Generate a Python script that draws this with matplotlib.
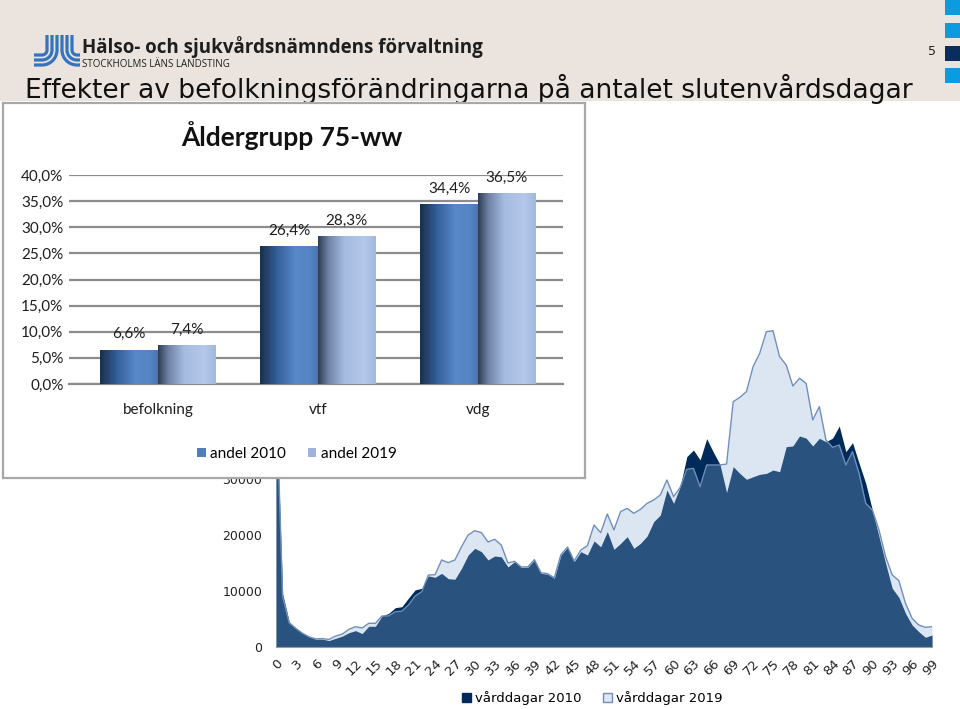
import numpy as np
import matplotlib
matplotlib.use('Agg')
import matplotlib.pyplot as plt
from matplotlib.colors import LinearSegmentedColormap
from matplotlib.patches import Rectangle, Patch
from matplotlib.ticker import FuncFormatter

W, H = 960, 709

# vårddagar per ålder (0-99)
ages = np.arange(100)
vard_2010 = [45000, 9500, 4460, 3400, 2500, 1800, 1400, 1400, 1150, 1550,
             1950, 2550, 2920, 2400, 3700, 3700, 5540, 6000, 7020, 7200,
             8750, 10200, 10480, 12700, 12440, 13150, 12200, 12100, 14050, 16430,
             17620, 17020, 15540, 16250, 16100, 14300, 15240, 14230, 14230, 15540,
             13150, 13000, 12260, 16430, 17800, 15240, 17020, 16430, 18930, 17900,
             20600, 17440, 18500, 19700, 17620, 18500, 19800, 22380, 23570, 28040,
             25650, 28630, 34000, 35180, 33400, 37200, 34800, 32600, 27600, 32200,
             31000, 29940, 30400, 30830, 31000, 31600, 31300, 35770, 35900, 37680,
             37300, 35900, 37260, 36660, 37300, 39460, 34880, 36490, 32800, 29230,
             24460, 19700, 14940, 10480, 8870, 6010, 3930, 2740, 1730, 2140]
vard_2019 = [47000, 9000, 4300, 3300, 2450, 1800, 1450, 1500, 1350, 1950,
             2300, 3150, 3630, 3400, 4230, 4230, 5540, 5540, 6300, 6400,
             7500, 9100, 9880, 12860, 12900, 15540, 15060, 15540, 17900, 20000,
             20770, 20420, 18750, 19230, 18200, 15000, 15300, 14300, 14300, 15600,
             13250, 13100, 12350, 16500, 17850, 15350, 17320, 18100, 21800, 20420,
             23750, 20900, 24170, 24760, 23870, 24580, 25650, 26250, 27140, 29820,
             26850, 28500, 31730, 31900, 28630, 32500, 32500, 32500, 32680, 43800,
             44580, 45600, 50060, 52440, 56300, 56480, 51850, 50360, 46600, 47980,
             47080, 40540, 42920, 36960, 35650, 36070, 32500, 34880, 31000, 25650,
             24460, 20900, 16130, 12860, 11850, 7800, 5120, 3930, 3510, 3630]

# inset: andel för åldersgrupp 75-ww
grupper = ['befolkning', 'vtf', 'vdg']
andel_2010 = [6.6, 26.4, 34.4]
andel_2019 = [7.4, 28.3, 36.5]


def fx(px):
    return px / W


def fy(py):
    return 1 - py / H


fig = plt.figure(figsize=(9.6, 7.09), dpi=100)
fig.patch.set_facecolor('white')

# --- header / bakgrund ---
bg = fig.add_axes([0, 0, 1, 1], zorder=-5)
bg.set_xlim(0, W)
bg.set_ylim(H, 0)
bg.axis('off')
bg.add_patch(Rectangle((0, 0), W, 101, color='#ebe4de', lw=0))
for y0, c in [(0, '#0d9be0'), (23, '#0d9be0'), (46, '#0b2d5e'), (68, '#0d9be0')]:
    bg.add_patch(Rectangle((945, y0), 15, 15, color=c, lw=0))

# logga (två grupper med tre böjda streck)
t = np.linspace(0, np.pi / 2, 30)
for r in [5, 10, 15]:
    cx, cy = 42, 50
    xs = np.r_[cx + r, cx + r * np.cos(t), 34]
    ys = np.r_[35, cy + r * np.sin(t), cy + r]
    bg.plot(xs, ys, color='#3474bf', lw=2.3, solid_capstyle='butt')
    cx2 = 77
    xs2 = np.r_[cx2 - r, cx2 - r * np.cos(t), 80]
    bg.plot(xs2, ys, color='#3474bf', lw=2.3, solid_capstyle='butt')

renderer = fig.canvas.get_renderer()


def fit(txt, width_px):
    w = txt.get_window_extent(renderer).width
    txt.set_fontsize(txt.get_fontsize() * width_px / w)


t1 = bg.text(82, 53, 'Hälso- och sjukvårdsnämndens förvaltning', family='Open Sans',
             fontweight='bold', fontsize=14, va='baseline', color='#1e1e1e')
fit(t1, 403)
t2 = bg.text(82, 67, 'STOCKHOLMS LÄNS LANDSTING', family='Open Sans',
             fontsize=6, va='baseline', color='#1e1e1e')
fit(t2, 148)
t3 = bg.text(25, 98, 'Effekter av befolkningsförändringarna på antalet slutenvårdsdagar',
             family='DejaVu Sans', fontsize=17, va='baseline', color='#111111')
fit(t3, 889)
bg.text(932, 55, '5', family='DejaVu Sans', fontsize=9, va='baseline', ha='center',
        color='#222222')

# --- huvuddiagram: vårddagar per ålder ---
ax = fig.add_axes([fx(276), fy(647), fx(932) - fx(276), fy(255) - fy(647)])
ax.patch.set_alpha(0)
ax.fill_between(ages, vard_2010, color='#002a5a', lw=0)
ax.fill_between(ages, vard_2019, color='#8eafd7', alpha=0.3, lw=0)
ax.plot(ages, vard_2019, color='#6f8fbb', lw=1)
ax.set_xlim(0, 99)
ax.set_ylim(0, 70000)
ax.set_xticks(ages[::3])
ax.set_xticklabels([str(a) for a in ages[::3]], rotation=45, ha='right',
                   rotation_mode='anchor', family='DejaVu Sans', fontsize=9.5)
ax.set_yticks(range(0, 70001, 10000))
ax.set_yticklabels([str(v) for v in range(0, 70001, 10000)], family='DejaVu Sans',
                   fontsize=9)
ax.tick_params(length=0, colors='#222222')
ax.tick_params(axis='y', pad=10)
ax.tick_params(axis='x', pad=7)
for s in ['top', 'right', 'left']:
    ax.spines[s].set_visible(False)
ax.spines['bottom'].set_color('#9a9a9a')
ax.spines['bottom'].set_linewidth(0.8)

fig.legend(handles=[Patch(facecolor='#002a5a', edgecolor='#002a5a', label='vårddagar 2010'),
                    Patch(facecolor='#dde7f3', edgecolor='#6f8fbb', label='vårddagar 2019')],
           loc='center', bbox_to_anchor=(fx(592), fy(698)), ncol=2, frameon=False,
           prop={'family': 'DejaVu Sans', 'size': 9.5}, handlelength=0.7,
           handleheight=0.7, handletextpad=0.3, columnspacing=1.6)

# --- inset ---
box = fig.add_axes([fx(3), fy(478), fx(585) - fx(3), fy(103) - fy(478)], zorder=2)
box.set_xticks([])
box.set_yticks([])
box.set_facecolor('white')
for s in box.spines.values():
    s.set_color('#a8a8a8')
    s.set_linewidth(1.6)

bx = fig.add_axes([fx(69), fy(384), fx(563) - fx(69), fy(175) - fy(384)], zorder=3)
bx.patch.set_alpha(0)
x = np.arange(len(grupper))
bw = 0.36
cm_2010 = LinearSegmentedColormap.from_list('a10', [(0, '#182f4b'), (0.3, '#35609a'),
                                                    (0.6, '#5687c6'), (0.85, '#5585c4'),
                                                    (1, '#4a77b2')])
cm_2019 = LinearSegmentedColormap.from_list('a19', [(0, '#2f3b52'), (0.18, '#6f82a6'),
                                                    (0.45, '#a5bbe0'), (0.8, '#b4c8ea'),
                                                    (1, '#a3b8dc')])
grad = np.linspace(0, 1, 256).reshape(1, -1)
bars1 = bx.bar(x - bw / 2, andel_2010, bw, color='none', zorder=3)
bars2 = bx.bar(x + bw / 2, andel_2019, bw, color='none', zorder=3)
for bars, cm in [(bars1, cm_2010), (bars2, cm_2019)]:
    for b in bars:
        x0, w, h = b.get_x(), b.get_width(), b.get_height()
        im = bx.imshow(grad, cmap=cm, extent=[x0, x0 + w, 0, h], aspect='auto', zorder=3)
        im.set_clip_path(b)

fmt = lambda v: f'{v:.1f}'.replace('.', ',') + '%'
bx.bar_label(bars1, labels=[fmt(v) for v in andel_2010], padding=6,
             family='Lato', fontsize=11, color='#1e1e1e')
bx.bar_label(bars2, labels=[fmt(v) for v in andel_2019], padding=6,
             family='Lato', fontsize=11, color='#1e1e1e')

bx.set_xlim(-0.556, 2.531)
bx.set_ylim(0, 40)
bx.set_yticks(np.arange(0, 41, 5))
bx.yaxis.set_major_formatter(FuncFormatter(lambda v, p: fmt(v)))
bx.set_xticks(x)
bx.set_xticklabels(grupper)
for lab in bx.get_xticklabels() + bx.get_yticklabels():
    lab.set_family('Lato')
    lab.set_fontsize(11)
    lab.set_color('#1e1e1e')
bx.tick_params(length=0)
bx.tick_params(axis='x', pad=14)
bx.tick_params(axis='y', pad=4)
bx.yaxis.grid(True, color='#8c8c8c', lw=1.6)
bx.set_axisbelow(True)
for s in ['top', 'right', 'left']:
    bx.spines[s].set_visible(False)
bx.spines['bottom'].set_color('#8c8c8c')
bx.spines['bottom'].set_linewidth(1.6)

fig.text(fx(292), fy(136), 'Åldergrupp 75-ww', family='Lato', fontweight='bold',
         fontsize=19, ha='center', va='center', color='#111111', zorder=5)

bx.legend(handles=[Patch(facecolor='#4f7fba', label='andel 2010'),
                   Patch(facecolor='#9fb4da', label='andel 2019')],
          loc='center', bbox_to_anchor=(fx(297), fy(454)), bbox_transform=fig.transFigure,
          ncol=2, frameon=False, prop={'family': 'Lato', 'size': 11},
          handlelength=0.55, handleheight=0.55, handletextpad=0.3, columnspacing=1.4)

fig.savefig('out.png', dpi=100)
